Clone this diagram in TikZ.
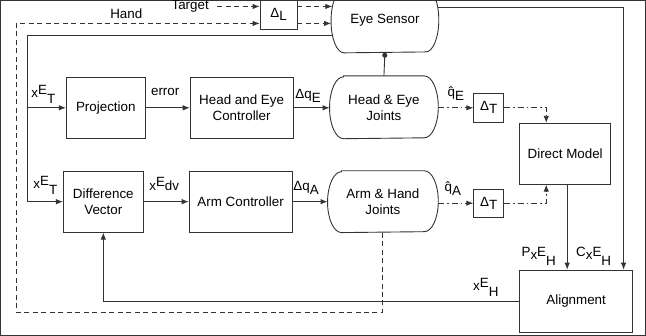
\documentclass[tikz,border=0pt]{standalone}
\usepackage{fontspec}
\setmainfont{Liberation Sans}
\usetikzlibrary{arrows.meta,calc}

% raised / lowered full-size indices used in the signal labels
\newcommand\hi[2][2.5pt]{\raisebox{#1}{#2}}
\newcommand\lo[2][-6pt]{\raisebox{#1}{#2}}

% outline of a "joint" node: straight top and bottom, half-ellipse ends
\newcommand\jointoutline[3]{%
  \draw ([xshift=#2]#1.north west) -- ([xshift=-#2]#1.north east)
    arc[start angle=90,end angle=-90,x radius=#2,y radius=#3]
    -- ([xshift=#2]#1.south west)
    arc[start angle=270,end angle=90,x radius=#2,y radius=#3] -- cycle;}

\begin{document}
\begin{tikzpicture}[x=1pt,y=-1pt,
  font=\fontsize{13.4}{16}\selectfont,
  line width=0.9pt,
  every path/.style={draw=black!80},
  tip/.style={-{Latex[length=7pt,width=5.5pt]}},
  box/.style={draw=black!80,align=center,inner sep=0pt},
  joint/.style={align=center,inner sep=0pt},
  dsh/.style={tip,dash pattern=on 5pt off 3.5pt},
  dd/.style={tip,dash pattern=on 6pt off 3pt on 1.5pt off 3pt},
  sig/.style={tip}]

\useasboundingbox (0,0) rectangle (646,335);

% ---- blocks ----
\node[joint,minimum width=107pt,minimum height=64pt] (ES) at (385,20) {Eye Sensor};
\jointoutline{ES}{13pt}{32pt}
\node[box,minimum width=37pt,minimum height=31pt] (DL) at (278.5,13.5) {Δ\lo[-3pt]{L}};

\node[box,minimum width=79pt,minimum height=61pt] (PR) at (105.5,107.5) {Projection};
\node[box,minimum width=103pt,minimum height=61pt] (HEC) at (241.5,107.5) {Head and Eye\\Controller};
\node[joint,minimum width=108pt,minimum height=62pt] (HEJ) at (384,107) {Head \& Eye\\Joints};
\jointoutline{HEJ}{14pt}{31pt}
\node[box,minimum width=30pt,minimum height=29pt] (T1) at (489,107.5) {Δ\lo[-3pt]{T}};
\node[box,minimum width=91pt,minimum height=61pt] (DM) at (565.5,153.5) {Direct Model};

\node[box,minimum width=80pt,minimum height=61pt] (DV) at (103,201.5) {Difference\\Vector};
\node[box,minimum width=103pt,minimum height=61pt] (AC) at (240.5,201.5) {Arm Controller};
\node[joint,minimum width=110pt,minimum height=61pt] (AHJ) at (383,201.5) {Arm \& Hand\\Joints};
\jointoutline{AHJ}{14pt}{30.5pt}
\node[box,minimum width=30pt,minimum height=28pt] (T2) at (489,203) {Δ\lo[-3pt]{T}};

\node[box,minimum width=113pt,minimum height=62pt] (AL) at (576.5,301) {Alignment};

% ---- inputs to the eye sensor ----
\node (tgt) at (190,5.5) {Target};
\node (hand) at (126,13) {Hand};
\coordinate (tgs) at (217,6);
\draw[dsh] (tgs) -- (tgs -| DL.west);
\draw[dsh] ($(DL.east)+(0,-7.5)$) -- ($(ES.west)+(1.3,-14)$);
\draw[dsh] ($(DL.east)+(0,9.5)$) -- ($(ES.west)+(0,3)$);

% hand position fed back from the arm joints
\coordinate (hb) at (16,312);
\coordinate (ht) at (16,23);
\draw[dsh] (AHJ.south) |- (hb) -- (ht) -- (ht -| DL.west);

% target position from the eye sensor
\coordinate (fl) at (27,35);
\draw[sig] ($(ES.west)+(1.5,15)$) -- (fl) |- (DV.west);
\draw[sig] (fl |- PR.west) -- (PR.west);
\node at (43,94) {x\hi[3pt]{E}\lo{T}};
\node at (45,185) {x\hi[3pt]{E}\lo{T}};

% eye sensor to the joints and to the alignment
\draw[{Circle[length=5pt]}-] (ES.south) -- (HEJ.north);
\coordinate (rt) at (624,7);
\draw[sig] ($(ES.east)+(-1.1,-13)$) -- (rt) -- (rt |- AL.north);

% head and eye chain
\draw[sig] (PR.east) -- (HEC.west);
\node at (165,92) {error};
\draw[sig] (HEC.east) -- (HEC.east -| HEJ.west);
\node at (308,96) {Δq\lo[-4pt]{E}};
\draw[dd] (HEJ.east |- T1.west) -- (T1.west);
\node at (456,93) {\^{q}\lo[-4pt]{E}};
\draw[dd] (T1.east) -| ($(DM.north west)+(27,0)$);

% arm chain
\draw[sig] (DV.east) -- (AC.west);
\node at (164,184) {x\hi[4pt]{E}dv};
\draw[sig] (AC.east) -- (AC.east -| AHJ.west);
\node at (306,188) {Δq\lo[-4pt]{A}};
\draw[dd] (AHJ.east |- T2.west) -- (T2.west);
\node at (453,188) {\^{q}\lo[-4pt]{A}};
\draw[dd] (T2.east) -| ($(DM.south west)+(27,0)$);

% predicted hand position
\coordinate (pm) at ($(DM.south west)+(48,0)$);
\draw[sig] (pm) -- (pm |- AL.north);
\node at (539,256) {\hi[3pt]{P}x\hi[3pt]{E}\lo[-6pt]{H}};
\node at (594,256) {\hi[3pt]{C}x\hi[3pt]{E}\lo[-6pt]{H}};

% aligned hand position back to the difference vector
\draw[sig] (AL.west) -| (DV.south);
\node at (486,287) {x\hi[3pt]{E}\lo[-6pt]{H}};
\end{tikzpicture}
\end{document}
